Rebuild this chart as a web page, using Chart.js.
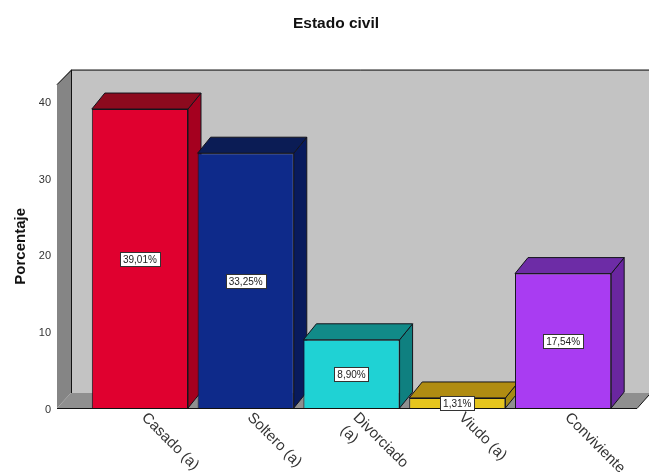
<!DOCTYPE html>
<html><head><meta charset="utf-8">
<style>html,body{margin:0;padding:0;background:#fff}#w{width:649px;height:475px;position:relative}</style>
<script src="https://cdn.jsdelivr.net/npm/chart.js@4"></script></head>
<body><div id="w"><canvas id="c"></canvas></div>
<script>
const categories = [["Casado (a)"], ["Soltero (a)"], ["Divorciado", "(a)"], ["Viudo (a)"], ["Conviviente"]];
const percentages = [39.01, 33.25, 8.90, 1.31, 17.54];
const yTicks = [0, 10, 20, 30, 40];

const faceFront = ["#e0002f", "#0e2a8a", "#1fd2d4", "#e6c51e", "#a93cf2"];
const faceTop   = ["#8c0a1e", "#0b1c55", "#118a88", "#b08c12", "#6d2ca6"];
const faceSide  = ["#a5001f", "#081a5c", "#0f8080", "#a58a12", "#6a26a0"];
const FONT = "'Liberation Sans', Arial, sans-serif";

function poly(ctx, pts, fill, stroke) {
  ctx.beginPath();
  pts.forEach((p, i) => i ? ctx.lineTo(p[0], p[1]) : ctx.moveTo(p[0], p[1]));
  ctx.closePath();
  if (fill) { ctx.fillStyle = fill; ctx.fill(); }
  if (stroke) { ctx.strokeStyle = stroke; ctx.lineWidth = 1; ctx.stroke(); }
}

const box3d = {
  id: 'box3d',
  beforeDraw(chart) {
    if (chart.titleBlock) { chart.titleBlock.left = 23; chart.titleBlock.right = 649; }
  },
  beforeDatasetsDraw(chart) {
    const { ctx, chartArea: a, scales: { y } } = chart;
    const wx = 14, wy = 15, L = a.left - 30, R = a.right + 21, B = y.getPixelForValue(0), T = a.top;
    ctx.save();
    poly(ctx, [[L + wx, T - wy], [chart.width + 2, T - wy], [chart.width + 2, B - wy], [L + wx, B - wy]], "#c3c3c3");
    poly(ctx, [[L, T], [L + wx, T - wy], [L + wx, B - wy], [L, B]], "#858585");
    poly(ctx, [[L, B], [L + wx, B - wy], [chart.width + 2, B - wy], [R, B]], "#8f8f8f");
    ctx.strokeStyle = "#111"; ctx.lineWidth = 1;
    ctx.beginPath();
    ctx.moveTo(L, T); ctx.lineTo(L + wx + .5, T - wy + .5); ctx.lineTo(chart.width, T - wy + .5);
    ctx.moveTo(L + wx + .5, T - wy); ctx.lineTo(L + wx + .5, B - wy);
    ctx.stroke();
    const dx = 13, dy = 16;
    chart.getDatasetMeta(0).data.forEach((bar, i) => {
      const l = bar.x - bar.width / 2, r = bar.x + bar.width / 2, t = bar.y, b = bar.base;
      poly(ctx, [[r, t], [r + dx, t - dy], [r + dx, b - dy], [r, b]], faceSide[i], "#14141c");
      poly(ctx, [[l, t], [l + dx, t - dy], [r + dx, t - dy], [r, t]], faceTop[i], "#14141c");
    });
    ctx.restore();
  },
  afterDraw(chart) {
    const { ctx, chartArea: a, scales: { y } } = chart;
    const B = y.getPixelForValue(0);
    ctx.save();
    ctx.strokeStyle = "#111"; ctx.lineWidth = 1;
    ctx.beginPath(); ctx.moveTo(a.left - 30, B + .5); ctx.lineTo(a.right + 21, B + .5); ctx.lineTo(chart.width, B - 13); ctx.stroke();
    ctx.font = "10px " + FONT; ctx.textAlign = "center"; ctx.textBaseline = "middle";
    chart.getDatasetMeta(0).data.forEach((bar, i) => {
      const s = percentages[i].toFixed(2).replace(".", ",") + "%";
      const w = ctx.measureText(s).width + 6, h = 14, cy = Math.round((bar.y + bar.base) / 2);
      ctx.fillStyle = "#fff"; ctx.strokeStyle = "#333";
      ctx.fillRect(Math.round(bar.x - w / 2) + .5, cy - 7 + .5, Math.round(w), h);
      ctx.strokeRect(Math.round(bar.x - w / 2) + .5, cy - 7 + .5, Math.round(w), h);
      ctx.fillStyle = "#222";
      ctx.fillText(s, bar.x, cy + 1);
    });
    ctx.restore();
  }
};

new Chart(document.getElementById('c'), {
  type: 'bar',
  data: { labels: categories, datasets: [{
    data: percentages, backgroundColor: faceFront, borderColor: "#14141c", borderWidth: 1,
    barPercentage: 0.909, categoryPercentage: 1
  }]},
  plugins: [box3d],
  options: {
    responsive: true, maintainAspectRatio: false, animation: false,
    layout: { padding: { left: 12, right: 33, top: 0, bottom: 0 } },
    plugins: {
      legend: { display: false }, tooltip: { enabled: false },
      title: { display: true, text: "Estado civil", color: "#111",
        font: { family: FONT, size: 15.5, weight: "bold" }, padding: { top: 14, bottom: 52 } }
    },
    scales: {
      x: {
        grid: { display: false }, border: { display: false },
        afterBuildTicks(s) { s._getXAxisLabelAlignment = () => "left"; },
        afterFit(s) { s.height = 67; },
        ticks: { minRotation: -45, maxRotation: -45, autoSkip: false, padding: -7, labelOffset: 4, color: "#333",
          font: { family: FONT, size: 15 } }
      },
      y: {
        min: 0, max: 42.2,
        grid: { display: false }, border: { display: false },
        afterBuildTicks(s) { s.ticks = yTicks.map(v => ({ value: v })); },
        afterFit(s) { s.width = 75; },
        title: { display: true, text: "Porcentaje", color: "#111", padding: 0,
          font: { family: FONT, size: 15, weight: "bold" } },
        ticks: { padding: 28, labelOffset: 1.5, color: "#333", includeBounds: false, font: { family: FONT, size: 11 } }
      }
    }
  }
});
</script></body></html>
